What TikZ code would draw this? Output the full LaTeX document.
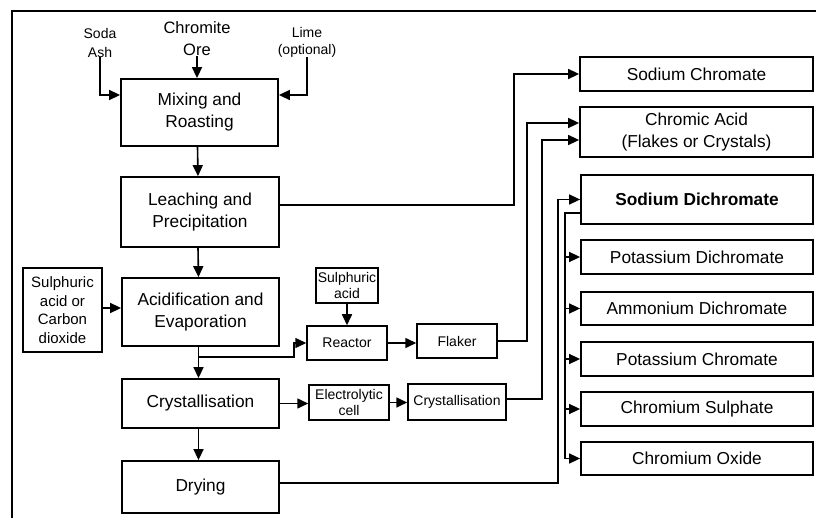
\documentclass[tikz,border=0pt]{standalone}
\usepackage{fontspec}
\setmainfont{Liberation Sans}
\usepackage{tikz}
\usetikzlibrary{arrows.meta}

\tikzset{
  box/.style={draw, line width=1.8pt, align=center, inner sep=0pt, font=\fontsize{17.3}{22}\selectfont},
  smallbox/.style={draw, line width=1.5pt, align=center, inner sep=0pt, font=\fontsize{14}{16}\selectfont},
  feed/.style={align=center, inner sep=0pt},
  line/.style={line width=1.6pt},
  flow/.style={line width=1.6pt, -{Triangle[length=11pt,width=10pt]}},
}

\begin{document}
\begin{tikzpicture}[x=1pt,y=-1pt]
\useasboundingbox (0,0) rectangle (816,518);
\draw [line width=1.6pt] (12,518) -- (12,11) -- (816,11);

\node [feed, font=\fontsize{14}{18}\selectfont] (soda) at (100,43) {Soda\\Ash};
\node [feed, font=\fontsize{16.5}{22}\selectfont] (ore) at (197,39) {Chromite\\Ore};
\node [feed, font=\fontsize{14}{17}\selectfont] (lime) at (307,42) {Lime\\(optional)};

\node [box, minimum width=157, minimum height=67] (mix) at (199.5,112.5) {Mixing and\\Roasting};
\node [box, minimum width=158, minimum height=70] (leach) at (200,212) {Leaching and\\Precipitation};
\node [box, minimum width=157, minimum height=68] (acid) at (200.5,312) {Acidification and\\Evaporation};
\node [box, minimum width=157, minimum height=49] (cryst) at (200.5,403.5) {Crystallisation};
\node [box, minimum width=157, minimum height=52] (dry) at (200.5,487) {Drying};
\node [draw, line width=1.2pt, align=center, inner sep=0pt, font=\fontsize{15}{18.5}\selectfont,
       minimum width=79, minimum height=84] (sulph) at (62.5,310) {Sulphuric\\acid or\\Carbon\\dioxide};

\draw [flow] (soda.south) |- ([yshift=17.5pt]mix.west);
\draw [flow] (ore.south) -- (ore.south |- mix.north);
\draw [flow] (lime.south) |- ([yshift=17.5pt]mix.east);
\draw [flow] ([xshift=-2pt]mix.south) -- ([xshift=-2pt]leach.north);
\draw [flow] ([xshift=-2pt]leach.south) -- ([xshift=-2pt]acid.north);
\draw [flow] ([xshift=-2pt]acid.south) -- ([xshift=-2pt]cryst.north);
\draw [flow] ([xshift=-2pt]cryst.south) -- ([xshift=-2pt]dry.north);
\draw [flow] ([yshift=2pt]sulph.east) -- ([yshift=2pt]sulph.east -| acid.west);

\node [smallbox, minimum width=62, minimum height=35] (sulph2) at (347,285.5) {Sulphuric\\acid};
\node [smallbox, minimum width=80, minimum height=34] (reactor) at (347,343) {Reactor};
\node [smallbox, minimum width=80, minimum height=34] (flaker) at (457,341) {Flaker};
\node [smallbox, minimum width=80, minimum height=35] (elec) at (349,402.5) {Electrolytic\\cell};
\node [smallbox, minimum width=98, minimum height=36] (cryst2) at (457,402) {Crystallisation};

\coordinate (br) at (198.5,357);
\draw [flow] (br) -- (294,357) |- (reactor.west);
\draw [flow] (sulph2) -- (reactor);
\draw [flow] (reactor.east) -- (reactor.east -| flaker.west);
\draw [flow] (cryst.east) -- (cryst.east -| elec.west);
\draw [flow] (elec.east) -- (elec.east -| cryst2.west);

\node [box, minimum width=233, minimum height=34] (nachrom) at (696.5,74) {Sodium Chromate};
\node [box, minimum width=233, minimum height=50] (chracid) at (696.5,132) {Chromic Acid\\(Flakes or Crystals)};
\node [box, minimum width=232, minimum height=49] (nadichrom) at (697,199.5) {\textbf{Sodium Dichromate}};
\node [box, minimum width=232, minimum height=34] (kdichrom) at (697,257) {Potassium Dichromate};
\node [box, minimum width=232, minimum height=33] (amdichrom) at (697,308.5) {Ammonium Dichromate};
\node [box, minimum width=232, minimum height=34] (kchrom) at (697,359) {Potassium Chromate};
\node [box, minimum width=232, minimum height=34] (crsulph) at (697,409) {Chromium Sulphate};
\node [box, minimum width=232, minimum height=33] (croxide) at (697,458.5) {Chromium Oxide};

\draw [flow] ([yshift=7pt]leach.east) -| ([xshift=-65pt]nachrom.west) -- (nachrom.west);
\draw [flow] (flaker.east) -| ([xshift=-52pt,yshift=9pt]chracid.west) -- ([yshift=9pt]chracid.west);
\draw [flow] ([yshift=3pt]cryst2.east) -| ([xshift=-37pt,yshift=-8pt]chracid.west) -- ([yshift=-8pt]chracid.west);
\draw [flow] ([yshift=4pt]dry.east) -| ([xshift=-22pt]nadichrom.west) -- (nadichrom.west);

\coordinate (bus) at (565,0);
\draw [line] ([yshift=-13.5pt]nadichrom.west) -| (bus |- croxide);
\draw [flow] (bus |- kdichrom) -- (kdichrom.west);
\draw [flow] (bus |- amdichrom) -- (amdichrom.west);
\draw [flow] (bus |- kchrom) -- (kchrom.west);
\draw [flow] (bus |- crsulph) -- (crsulph.west);
\draw [flow] (bus |- croxide) -- (croxide.west);
\end{tikzpicture}
\end{document}
